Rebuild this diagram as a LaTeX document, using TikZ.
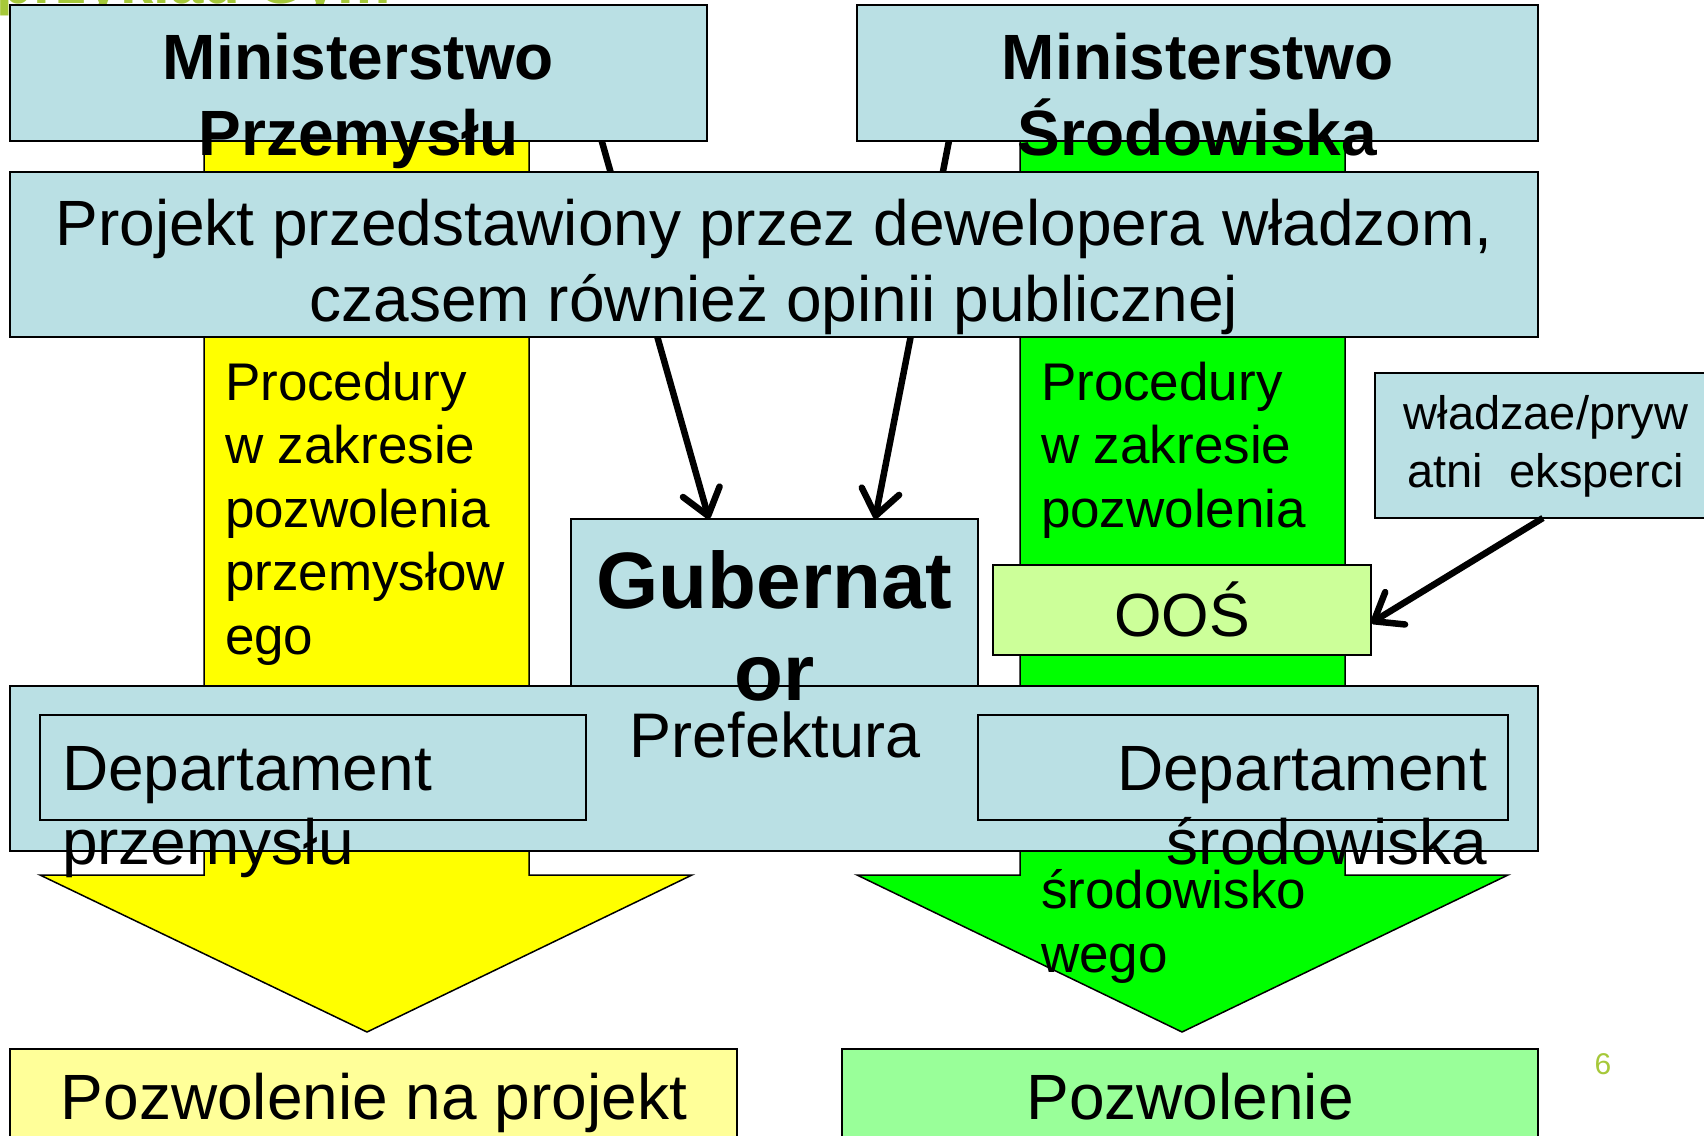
\documentclass[tikz,border=0pt]{standalone}
\usepackage{fontspec}
\setmainfont{Liberation Sans}
\usetikzlibrary{arrows.meta,calc}
\newcommand{\fsz}[2]{\fontsize{#1}{#2}\selectfont}
\definecolor{lblue}{RGB}{186,224,228}
\definecolor{ylw}{RGB}{255,255,0}
\definecolor{grn}{RGB}{0,255,0}
\definecolor{lgrn}{RGB}{204,255,153}
\definecolor{lylw}{RGB}{255,255,153}
\definecolor{mgrn}{RGB}{153,255,153}
\definecolor{olivec}{RGB}{166,200,58}
\tikzset{
  boxst/.style={draw=black, line width=2pt, inner sep=0pt, outer sep=0pt, anchor=north west},
  txt/.style={inner sep=0pt, outer sep=0pt, text=black},
  conn/.style={line width=6.5pt, -{Straight Barb[round,length=25pt,width=38pt]}},
  bigarrow/.style={draw=black, line width=1.5pt, line join=miter},
}
\begin{document}
\begin{tikzpicture}[x=1pt,y=-1pt]
\useasboundingbox (0,0) rectangle (1704,1135);
% cut-off title
\node[txt, anchor=base west, font=\bfseries\fsz{60}{72}, text=olivec] (ttl) at (-3,4) {przykład Gym};
% big arrows
\draw[bigarrow, fill=ylw] (204,141) -- (529,141) -- (529,875) -- (692,875) -- (367,1032) -- (40,875) -- (204,875) -- cycle;
\draw[bigarrow, fill=grn] (1020,141) -- (1345,141) -- (1345,875) -- (1508,875) -- (1182,1032) -- (857,875) -- (1020,875) -- cycle;
% ministries
\node[boxst, fill=lblue, minimum width=697, minimum height=136] (mp) at (10,5) {};
\node[boxst, fill=lblue, minimum width=681, minimum height=136] (ms) at (857,5) {};
\node[txt, anchor=base, font=\bfseries\fsz{64}{76}, align=center] (mpt) at (358.5,155) {Ministerstwo\\Przemysłu};
\node[txt, anchor=base, font=\bfseries\fsz{64}{76}, align=center] (mst) at (1197.5,155) {Ministerstwo\\Środowiska};
% governor box
\node[boxst, fill=lblue, minimum width=407, minimum height=167] (gub) at (571,519) {};
% arrows ministries -> governor
\draw[conn] ($(mp.south west)!0.849!(mp.south east)$) -- ($(gub.north west)!0.339!(gub.north east)$);
\draw[conn] ($(ms.south west)!0.135!(ms.south east)$) -- ($(gub.north west)!0.747!(gub.north east)$);
% project box
\node[boxst, fill=lblue, minimum width=1528, minimum height=165] (proj) at (10,172) {};
\node[txt, anchor=base, font=\fsz{64}{76}, align=center] (projt) at (774,321) {Projekt przedstawiony przez dewelopera władzom,\\czasem również opinii publicznej};
% procedures text
\node[txt, anchor=base west, font=\fsz{53}{63.5}, align=left] (procy) at (225,654) {Procedury\\w zakresie\\pozwolenia\\przemysłow\\ego};
\node[txt, anchor=base west, font=\fsz{53}{63.5}, align=left] (procg) at (1041,527) {Procedury\\w zakresie\\pozwolenia};
% OOS and experts
\node[boxst, fill=lgrn, minimum width=378, minimum height=90] (oos) at (993,565) {};
\node[txt, anchor=base, font=\fsz{61}{70}] (oost) at (1182,636) {OOŚ};
\node[boxst, fill=lblue, minimum width=342, minimum height=145] (exp) at (1375,373) {};
\node[txt, anchor=base, font=\fsz{47}{58}, align=center] (expt) at (1546,487) {władzae/pryw\\atni\ \ eksperci};
\draw[conn] ($(exp.south west)!0.491!(exp.south east)$) -- ($(oos.north east)!0.644!(oos.south east)$);
% prefecture
\node[boxst, fill=lblue, minimum width=1528, minimum height=165] (pref) at (10,686) {};
\node[boxst, fill=lblue, minimum width=546, minimum height=105] (depp) at (40,715) {};
\node[boxst, fill=lblue, minimum width=530, minimum height=105] (deps) at (978,715) {};
\node[txt, anchor=base, font=\bfseries\fsz{80}{92}, align=center] (gubt) at (774.5,700) {Gubernat\\or};
\node[txt, anchor=base, font=\fsz{63}{74}] (preft) at (775,757) {Prefektura};
\node[txt, anchor=base west, font=\fsz{64}{74}, align=left] (deppt) at (62,864) {Departament\\przemysłu};
\node[txt, anchor=base east, font=\fsz{64}{74}, align=right] (depst) at (1487,864) {Departament\\środowiska};
\node[txt, anchor=base west, font=\fsz{53}{63.5}, align=left] (srod) at (1041,972) {środowisko\\wego};
% permits
\node[boxst, fill=lylw, minimum width=727, minimum height=130] (pozp) at (10,1049) {};
\node[boxst, fill=mgrn, minimum width=696, minimum height=130] (pozs) at (842,1049) {};
\node[txt, anchor=base, font=\fsz{64}{76}] (pozpt) at (374,1119) {Pozwolenie na projekt};
\node[txt, anchor=base, font=\fsz{64}{76}] (pozst) at (1190,1119) {Pozwolenie};
\node[txt, anchor=base, font=\fsz{30}{36}, text=olivec] (pgn) at (1603,1074) {6};
\end{tikzpicture}
\end{document}
